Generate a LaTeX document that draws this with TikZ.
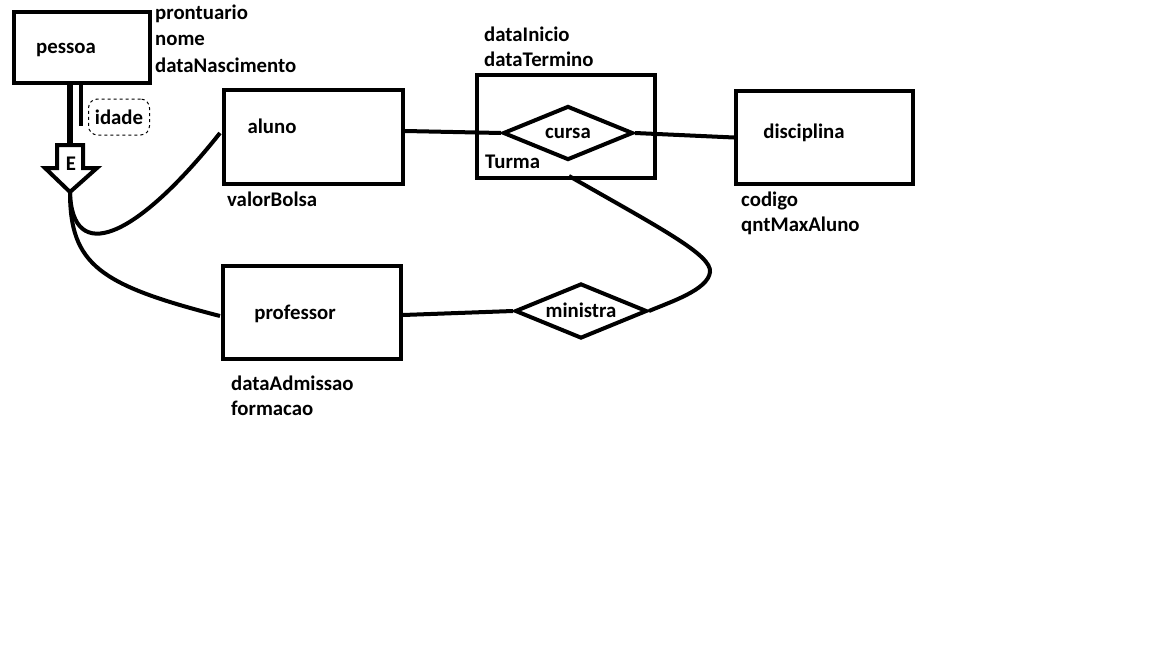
\documentclass[tikz,border=0pt]{standalone}
\usepackage{fontspec}
\setmainfont{Carlito}
\usetikzlibrary{shapes.geometric}
\begin{document}
\begin{tikzpicture}[x=1pt,y=-1pt,
  every node/.style={font=\bfseries\fontsize{20.8}{24}\selectfont,inner sep=0pt},
  ent/.style={draw,line width=4pt,rectangle,anchor=north west,inner sep=0pt},
  rel/.style={draw,line width=4pt,diamond,aspect=2.4,inner sep=0pt},
  attr/.style={anchor=west},
  conn/.style={line width=4pt}]
\useasboundingbox[fill=white] (0,0) rectangle (1152,648);
% entities
\node[ent,minimum width=136pt,minimum height=71pt] (pessoa) at (12,10) {};
\node[ent,minimum width=179pt,minimum height=94pt] (aluno) at (222,88) {};
\node[ent,minimum width=178pt,minimum height=93pt] (professor) at (221,264) {};
\node[ent,minimum width=178pt,minimum height=103pt] (turma) at (475,73) {};
\node[ent,minimum width=177pt,minimum height=93pt] (disciplina) at (734,89) {};
% relationships
\node[rel,minimum width=130pt,minimum height=54pt] (cursa) at (568,133) {};
\node[rel,minimum width=132pt,minimum height=55pt] (ministra) at (581,311) {};
% labels
\node (tpessoa) at (66,50) {pessoa};
\node (taluno) at (272,126) {aluno};
\node (tprof) at (295,314) {professor};
\node (tcursa) at (568,133) {cursa};
\node (tmin) at (581,310) {ministra};
\node (tdisc) at (804,133) {disciplina};
\node[attr] (tturma) at (485,162) {Turma};
% attributes
\node[attr] (a1) at (155,14) {prontuario};
\node[attr] (a2) at (155,40) {nome};
\node[attr] (a3) at (155,65) {dataNascimento};
\node[attr] (a4) at (227,199) {valorBolsa};
\node[attr] (a5) at (484,34) {dataInicio};
\node[attr] (a6) at (484,59) {dataTermino};
\node[attr] (a7) at (741,201) {codigo};
\node[attr] (a8) at (741,226) {qntMaxAluno};
\node[attr] (a9) at (231,383) {dataAdmissao};
\node[attr] (a10) at (231,408) {formacao};
% idade derived attribute
\node[draw,dashed,line width=1pt,rounded corners=9pt,minimum width=61pt,minimum height=36pt] (idade) at (119,117) {idade};
% specialization arrow
\draw[line width=4pt,fill=white,line join=miter] (57,145) -- (83,145) -- (83,168) -- (97,168) -- (70,192) -- (45,168) -- (57,168) -- cycle;
\coordinate (etop) at (70,145);
\coordinate (etip) at (70,192);
\node (te) at (71,164) {E};
\draw[line width=6pt] (70,81) -- (etop);
\draw[line width=4pt] (81,81) -- (81,126);
% connectors
\draw[conn] (etip) .. controls (72,265) and (135,240) .. (220,133);
\draw[conn] (etip) .. controls (70,265) and (100,285) .. (220,316);
\draw[conn] (aluno.east |- 0,131) -- (cursa.west);
\draw[conn] (cursa.east) -- (disciplina.west);
\draw[conn] (professor.east |- 0,315) -- (ministra.west);
\draw[conn] (569,176) .. controls (660,228) and (712,255) .. (710,272) .. controls (708,290) and (670,302) .. (ministra.east);
\end{tikzpicture}
\end{document}
